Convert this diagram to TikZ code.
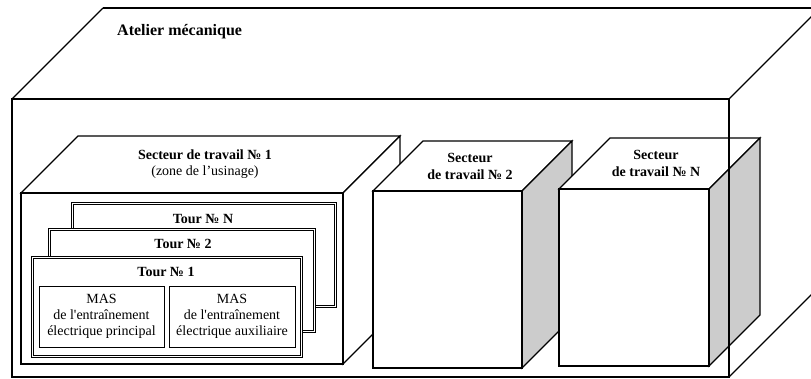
\documentclass[tikz,border=0pt]{standalone}
\usepackage{fontspec}
\setmainfont{Liberation Serif}
\tikzset{
  cubeline/.style={draw=black, line width=1.1pt, line join=miter},
  outerline/.style={draw=black, line width=1.3pt, line join=miter},
  tourbox/.style={draw=black, double=white, double distance=1.5pt, line width=0.8pt, fill=white},
  masbox/.style={draw=black, line width=0.7pt, fill=white},
  lbl/.style={inner sep=0pt, align=center, font=\fontsize{14}{16}\selectfont},
  blbl/.style={lbl, font=\fontsize{14}{17}\selectfont\bfseries},
}
\newcommand\mycube[6]{%
  \draw[cubeline, fill=white] (#1,#2) -- ({#1+#5},{#2-#5}) -- ({#3+#5},{#2-#5}) -- (#3,#2) -- cycle;
  \draw[cubeline, fill=#6] (#3,#2) -- ({#3+#5},{#2-#5}) -- ({#3+#5},{#4-#5}) -- (#3,#4) -- cycle;
  \draw[cubeline, fill=white] (#1,#2) rectangle (#3,#4);
}
\begin{document}
\begin{tikzpicture}[x=1pt,y=-1pt]
\useasboundingbox (0,0) rectangle (811,379);
\fill[white] (0,0) rectangle (811,379);
\clip (0,0) rectangle (811,379);
% sector cubes
\mycube{21}{193}{343}{364}{57}{white}
\mycube{373}{191}{522}{368}{50}{black!20}
\mycube{559}{189}{709}{366}{51}{black!20}
% outer workshop box
\draw[outerline] (12,99) rectangle (729,377);
\draw[outerline] (12,99) -- (103,8);
\draw[draw=black, line width=2pt] (103,8) -- (830,8);
\draw[outerline] (729,99) -- (820,8);
\draw[outerline] (729,377) -- (820,286);
% lathes
\draw[tourbox] (72.5,203.5) rectangle (335.5,306.5);
\draw[tourbox] (49.5,229.5) rectangle (314.5,331.5);
\draw[tourbox] (32.5,257.5) rectangle (301.5,356.5);
\draw[masbox] (39,286) rectangle (164,347);
\draw[masbox] (169,286) rectangle (295,347);
% texts
\node[blbl, anchor=west, font=\fontsize{16}{18}\selectfont\bfseries] (title) at (117,32) {Atelier mécanique};
\node[lbl] (s1) at (205,164.5) {\textbf{Secteur de travail № 1}\\(zone de l’usinage)};
\node[blbl] (s2) at (470,166.5) {Secteur\\de travail № 2};
\node[blbl] (sN) at (656,163) {Secteur\\de travail № N};
\node[blbl] (tN) at (203,219) {Tour № N};
\node[blbl] (t2) at (183,244) {Tour № 2};
\node[blbl] (t1) at (166,272) {Tour № 1};
\node[lbl] (m1) at (101.5,316) {MAS\\de l\textquotesingle entraînement\\électrique principal};
\node[lbl] (m2) at (232,316) {MAS\\de l\textquotesingle entraînement\\électrique auxiliaire};
\end{tikzpicture}
\end{document}
